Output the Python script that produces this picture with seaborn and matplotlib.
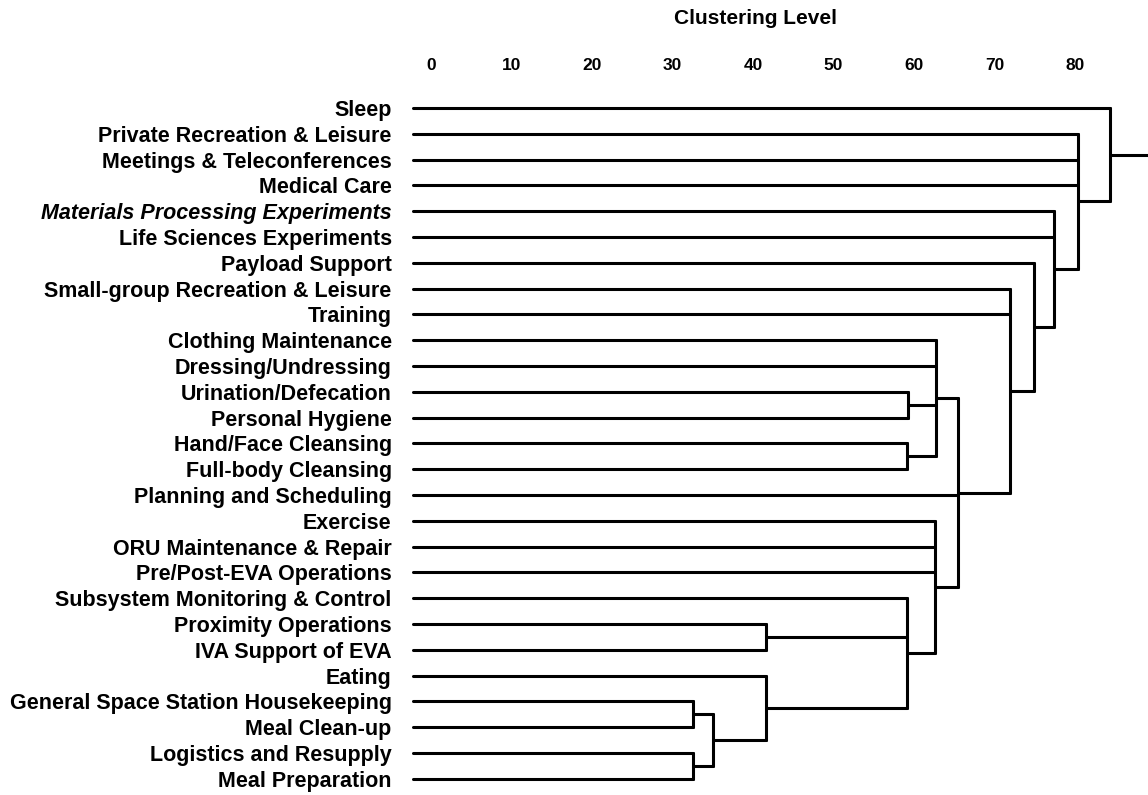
import pandas as pd
import matplotlib
matplotlib.use("Agg")
import matplotlib.pyplot as plt
import seaborn as sns

sns.set_theme(style="white")
plt.rcParams["font.family"] = ["Liberation Sans", "DejaVu Sans"]
plt.rcParams["text.color"] = "black"
plt.rcParams["xtick.color"] = "black"
plt.rcParams["ytick.color"] = "black"

# activities, top to bottom
activities = [
    "Sleep",
    "Private Recreation & Leisure",
    "Meetings & Teleconferences",
    "Medical Care",
    "Materials Processing Experiments",
    "Life Sciences Experiments",
    "Payload Support",
    "Small-group Recreation & Leisure",
    "Training",
    "Clothing Maintenance",
    "Dressing/Undressing",
    "Urination/Defecation",
    "Personal Hygiene",
    "Hand/Face Cleansing",
    "Full-body Cleansing",
    "Planning and Scheduling",
    "Exercise",
    "ORU Maintenance & Repair",
    "Pre/Post-EVA Operations",
    "Subsystem Monitoring & Control",
    "Proximity Operations",
    "IVA Support of EVA",
    "Eating",
    "General Space Station Housekeeping",
    "Meal Clean-up",
    "Logistics and Resupply",
    "Meal Preparation",
]

# clusters in merge order: name, members, clustering level
cluster_names = ["meal1", "meal2", "meals", "eating", "prox", "subsys", "ops",
                 "toilet", "cleanse", "hygiene", "daily", "group", "payload",
                 "science", "work", "all"]
cluster_members = [
    ["General Space Station Housekeeping", "Meal Clean-up"],
    ["Logistics and Resupply", "Meal Preparation"],
    ["meal1", "meal2"],
    ["Eating", "meals"],
    ["Proximity Operations", "IVA Support of EVA"],
    ["Subsystem Monitoring & Control", "prox", "eating"],
    ["Exercise", "ORU Maintenance & Repair", "Pre/Post-EVA Operations", "subsys"],
    ["Urination/Defecation", "Personal Hygiene"],
    ["Hand/Face Cleansing", "Full-body Cleansing"],
    ["Clothing Maintenance", "Dressing/Undressing", "toilet", "cleanse"],
    ["hygiene", "Planning and Scheduling", "ops"],
    ["Small-group Recreation & Leisure", "Training", "daily"],
    ["Payload Support", "group"],
    ["Materials Processing Experiments", "Life Sciences Experiments", "payload"],
    ["Private Recreation & Leisure", "Meetings & Teleconferences", "Medical Care", "science"],
    ["Sleep", "work"],
]
cluster_levels = [32.5, 32.5, 35.0, 41.6, 41.6, 59.1, 62.6, 59.3, 59.1, 62.7,
                  65.5, 71.9, 74.9, 77.4, 80.4, 84.3]

level_ticks = [0, 10, 20, 30, 40, 50, 60, 70, 80]

# build the elbow segments of the dendrogram
leaf_start = -2.2
pos = {name: (leaf_start, i) for i, name in enumerate(activities)}
rows = []
seg = 0
for name, members, level in zip(cluster_names, cluster_members, cluster_levels):
    ys = [pos[m][1] for m in members]
    for m in members:
        x0, y0 = pos[m]
        rows += [(seg, x0, y0), (seg, level, y0)]
        seg += 1
    rows += [(seg, level, min(ys)), (seg, level, max(ys))]
    seg += 1
    pos[name] = (level, (min(ys) + max(ys)) / 2)
# stem leaving the top cluster
x0, y0 = pos["all"]
rows += [(seg, x0, y0), (seg, 95, y0)]
segs = pd.DataFrame(rows, columns=["seg", "x", "y"])

fig = plt.figure(figsize=(11.48, 7.95), dpi=100)
ax = fig.add_axes([400 / 1148, 0, 748 / 1148, 1 - 80 / 795])

sns.lineplot(data=segs, x="x", y="y", units="seg", estimator=None, sort=False,
             color="black", linewidth=2.2, legend=False, ax=ax)

ax.set_xlim(-3.85, 89.07)
ax.set_ylim(26.63, -1.085)
ax.xaxis.tick_top()
ax.set_xticks(level_ticks)
ax.set_xticklabels([str(t) for t in level_ticks], fontsize=12.5, fontweight="bold")
ax.set_yticks(range(len(activities)))
ax.set_yticklabels(activities, fontsize=15.5, fontweight="bold")
for lab in ax.get_yticklabels():
    if lab.get_text() == "Materials Processing Experiments":
        lab.set_style("italic")
ax.tick_params(axis="x", length=0, pad=5)
ax.tick_params(axis="y", length=0, pad=6)
ax.set_xlabel("")
ax.set_ylabel("")
sns.despine(ax=ax, left=True, bottom=True, top=True, right=True)

fig.text(756 / 1148, 1 - 18 / 795, "Clustering Level", ha="center", va="center",
         fontsize=15, fontweight="bold")

fig.savefig("out.png", dpi=100)
